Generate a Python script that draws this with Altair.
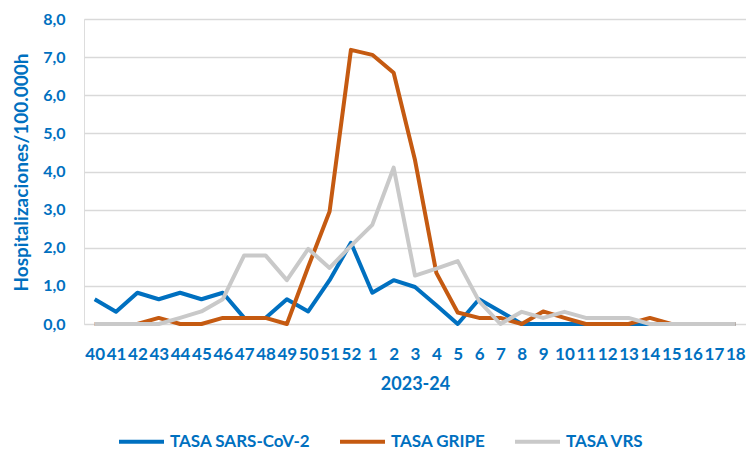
import altair as alt
import pandas as pd

weeks = ["40", "41", "42", "43", "44", "45", "46", "47", "48", "49", "50", "51", "52",
         "1", "2", "3", "4", "5", "6", "7", "8", "9", "10", "11", "12", "13", "14",
         "15", "16", "17", "18"]
series_names = ["TASA SARS-CoV-2", "TASA GRIPE", "TASA VRS"]
sars = [0.65, 0.32, 0.82, 0.65, 0.82, 0.65, 0.82, 0.16, 0.16, 0.65, 0.33, 1.15, 2.13,
        0.82, 1.15, 0.97, 0.49, 0.0, 0.65, 0.33, 0.0, 0.0, 0.0, 0.0, 0.0, 0.0, 0.0,
        0.0, 0.0, 0.0, 0.0]
gripe = [0.0, 0.0, 0.0, 0.16, 0.0, 0.0, 0.16, 0.16, 0.16, 0.0, 1.5, 2.95, 7.19,
         7.06, 6.59, 4.3, 1.34, 0.3, 0.16, 0.16, 0.0, 0.33, 0.16, 0.0, 0.0, 0.0, 0.16,
         0.0, 0.0, 0.0, 0.0]
vrs = [0.0, 0.0, 0.0, 0.0, 0.16, 0.33, 0.65, 1.8, 1.8, 1.15, 1.97, 1.47, 2.05,
       2.6, 4.1, 1.27, 1.45, 1.65, 0.6, 0.0, 0.32, 0.16, 0.32, 0.16, 0.16, 0.16, 0.0,
       0.0, 0.0, 0.0, 0.0]
colors = ["#0070C0", "#C55A11", "#C9C9C9"]

rows = []
for name, vals in zip(series_names, [sars, gripe, vrs]):
    for i, (w, v) in enumerate(zip(weeks, vals)):
        rows.append({"semana": w, "valor": v, "serie": name, "idx": i})
df = pd.DataFrame(rows)

BLUE = "#0070C0"
FONT = "Lato"

x_enc = alt.X(
    "semana:N",
    sort=weeks,
    scale=alt.Scale(type="point", padding=0.5),
    axis=alt.Axis(
        title="2023-24", labelAngle=0, ticks=False, domain=False, grid=False,
        labelFont=FONT, labelFontSize=17, labelFontWeight="bold", labelColor=BLUE,
        labelPadding=22, labelOverlap=False, labelBound=False,
        titleFont=FONT, titleFontSize=18, titleFontWeight="bold", titleColor=BLUE,
        titleY=51, titleBaseline="top",
    ),
)
y_enc = alt.Y(
    "valor:Q",
    scale=alt.Scale(domain=[0, 8], nice=False),
    axis=alt.Axis(
        title="Hospitalizaciones/100.000h", values=[0, 1, 2, 3, 4, 5, 6, 7, 8],
        labelExpr="replace(format(datum.value, '.1f'), '.', ',')",
        ticks=False, domain=False, gridColor="#D9D9D9", gridWidth=1.5,
        labelFont=FONT, labelFontSize=16, labelFontWeight="bold", labelColor=BLUE,
        labelPadding=19,
        titleFont=FONT, titleFontSize=19, titleFontWeight="bold", titleColor=BLUE,
        titleX=-57, titleY=153, titleAlign="center", titleBaseline="alphabetic",
        titleAngle=-90,
    ),
)
color_enc = alt.Color(
    "serie:N",
    scale=alt.Scale(domain=series_names, range=colors),
    legend=alt.Legend(
        orient="none", legendX=33, legendY=398, direction="horizontal", title=None,
        symbolType="stroke", symbolSize=2025, symbolStrokeWidth=4,
        labelFont=FONT, labelFontSize=17, labelFontWeight="bold", labelColor=BLUE,
        labelOffset=4, columnPadding=21,
    ),
)

layers = []
for name in series_names:
    layers.append(
        alt.Chart(df)
        .transform_filter(alt.datum.serie == name)
        .mark_line(strokeWidth=4, strokeJoin="round")
        .encode(x=x_enc, y=y_enc, color=color_enc, order="idx:Q")
    )

chart = (
    alt.layer(*layers)
    .properties(
        width=662, height=305,
        autosize=alt.AutoSizeParams(type="none"),
        padding={"left": 76, "top": 11, "right": 0, "bottom": 126},
    )
    .configure_view(stroke=None)
    .configure(background="white")
)

chart.save("out.html", embed_options={"renderer": "svg", "actions": False})
